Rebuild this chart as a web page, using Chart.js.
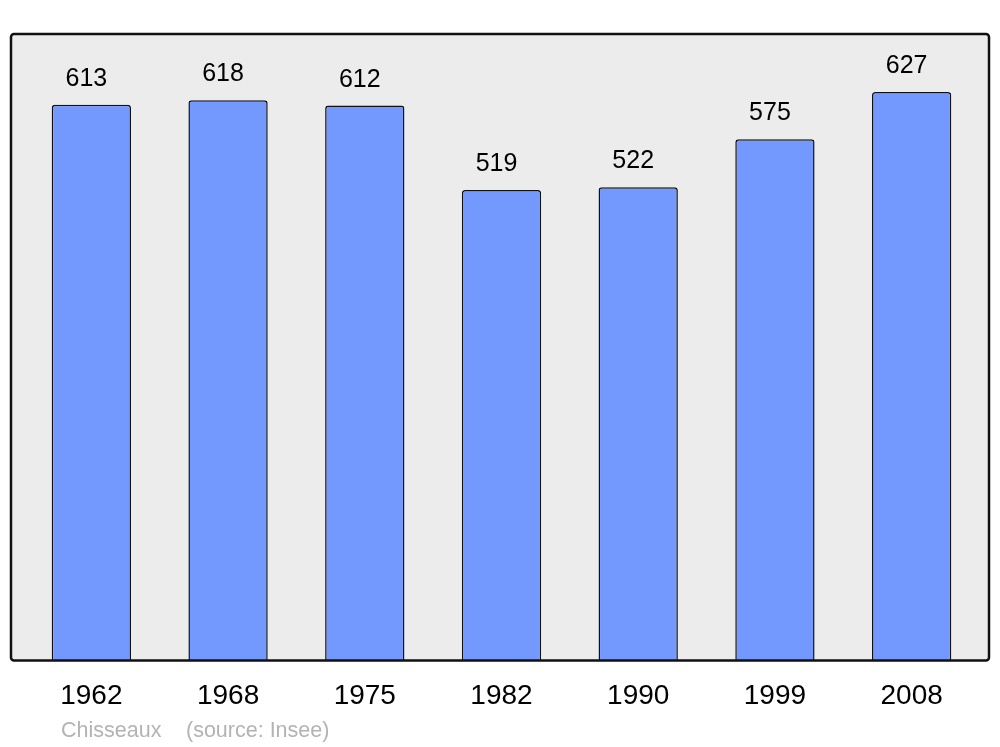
<!DOCTYPE html>
<html>
<head>
<meta charset="utf-8">
<script src="https://cdn.jsdelivr.net/npm/chart.js@4"></script>
<style>
  html, body { margin: 0; padding: 0; background: #ffffff; }
  #wrap { width: 1000px; height: 747px; position: relative; }
</style>
</head>
<body>
<div id="wrap"><canvas id="popChart" width="1000" height="747"></canvas></div>
<script>
// census years and population (Chisseaux, source Insee)
const years = ["1962", "1968", "1975", "1982", "1990", "1999", "2008"];
const population = [613, 618, 612, 519, 522, 575, 627];
const yMax = 691;

// grey panel with black rounded frame behind the bars
const panelPlugin = {
    id: "panel",
    beforeDraw(chart) {
        const ctx = chart.ctx;
        const a = chart.chartArea;
        const x0 = 11, x1 = 989, y0 = a.top, y1 = a.bottom;
        ctx.save();
        ctx.beginPath();
        ctx.roundRect(x0, y0, x1 - x0, y1 - y0, 3);
        ctx.fillStyle = "#ececec";
        ctx.fill();
        ctx.restore();
    },
    afterDatasetsDraw(chart) {
        const ctx = chart.ctx;
        const a = chart.chartArea;
        const x0 = 11, x1 = 989, y0 = a.top, y1 = a.bottom;
        ctx.save();
        ctx.beginPath();
        ctx.roundRect(x0, y0, x1 - x0, y1 - y0, 3);
        ctx.lineWidth = 2.5;
        ctx.strokeStyle = "#111111";
        ctx.stroke();

        // value above each bar
        const meta = chart.getDatasetMeta(0);
        ctx.font = "25px 'Liberation Sans', Arial, sans-serif";
        ctx.fillStyle = "#000000";
        ctx.textAlign = "center";
        ctx.textBaseline = "alphabetic";
        meta.data.forEach((bar, i) => {
            ctx.fillText(String(population[i]), bar.x - 5, bar.y - 19);
        });

        // footer
        ctx.font = "21.5px 'Liberation Sans', Arial, sans-serif";
        ctx.fillStyle = "#b3b3b3";
        ctx.textAlign = "left";
        ctx.fillText("Chisseaux", 61, 737);
        ctx.fillText("(source: Insee)", 186, 737);
        ctx.restore();
    }
};

const ctx = document.getElementById("popChart").getContext("2d");
new Chart(ctx, {
    type: "bar",
    data: {
        labels: years,
        datasets: [
            {
                data: population,
                backgroundColor: "#7399ff",
                borderColor: "#111111",
                borderWidth: 1.5,
                borderSkipped: "start",
                borderRadius: { topLeft: 3, topRight: 3, bottomLeft: 0, bottomRight: 0 },
                barPercentage: 0.58,
                categoryPercentage: 1.0,
            },
        ],
    },
    options: {
        responsive: false,
        animation: false,
        layout: { padding: { left: 23, right: 20, top: 34, bottom: 23 } },
        plugins: {
            legend: { display: false },
            tooltip: { enabled: false },
        },
        scales: {
            x: {
                grid: { display: false },
                border: { display: false },
                ticks: {
                    color: "#000000",
                    padding: 11,
                    maxRotation: 0,
                    font: { family: "'Liberation Sans', Arial, sans-serif", size: 28 },
                },
            },
            y: {
                display: false,
                min: 0,
                max: yMax,
            },
        },
    },
    plugins: [panelPlugin],
});
</script>
</body>
</html>
